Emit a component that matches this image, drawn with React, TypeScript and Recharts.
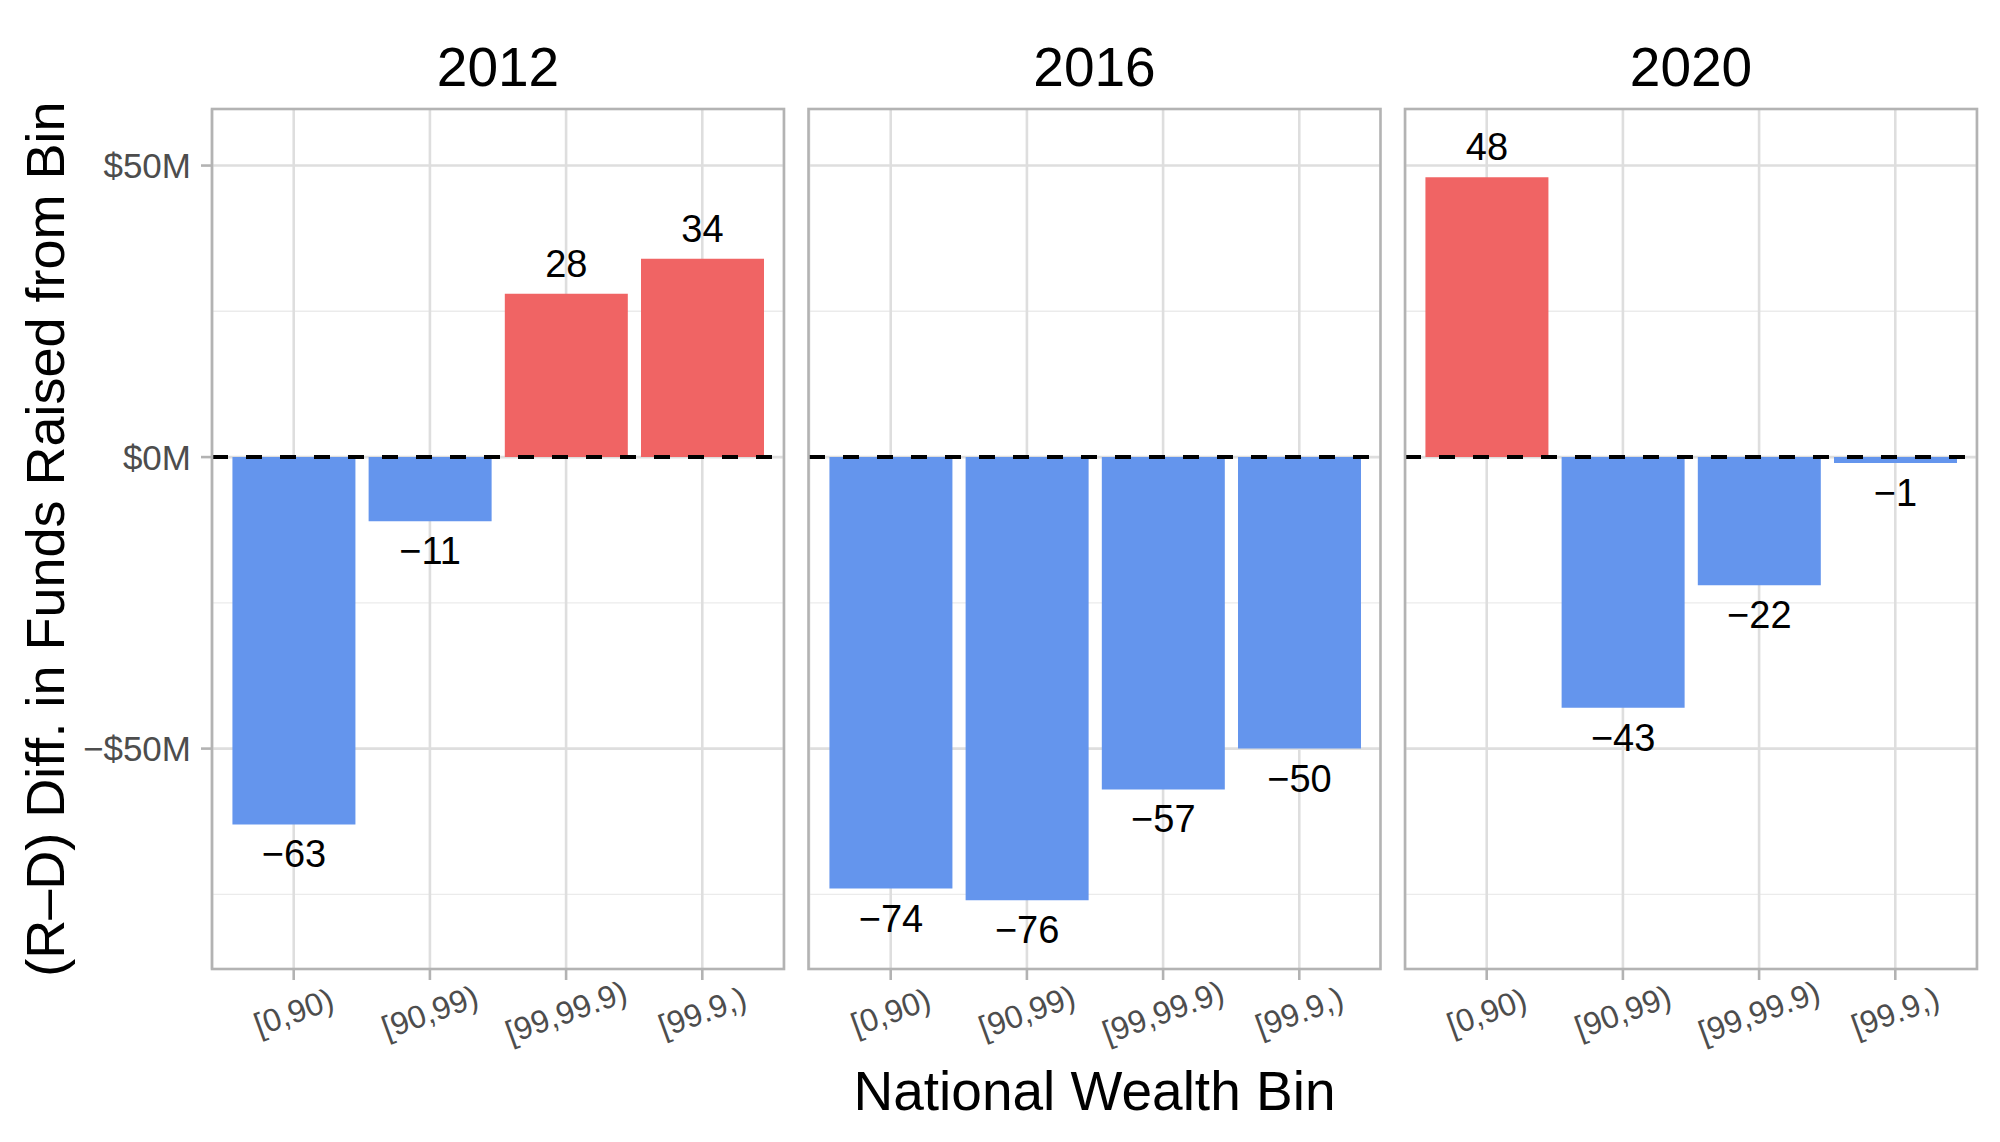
import React from 'react';
import { BarChart, Bar, XAxis, YAxis, CartesianGrid, ReferenceLine, Cell, LabelList } from 'recharts';

const bins = ['[0,90)', '[90,99)', '[99,99.9)', '[99.9,)'];
const years = ['2012', '2016', '2020'];
const values2012 = [-63, -11, 28, 34];
const values2016 = [-74, -76, -57, -50];
const values2020 = [48, -43, -22, -1];
const yTicks = [50, 0, -50];
const yMinorTicks = [25, -25, -75];
const yDomain: [number, number] = [-87.8, 59.7];

const seriesByYear = [values2012, values2016, values2020];

const FONT = '"Liberation Sans", Arial, Helvetica, sans-serif';
const RED = '#F06464';
const BLUE = '#6495ED';

const PANEL_LEFTS = [212, 808.5, 1405];
const PANEL_W = 572;
const PANEL_TOP = 109;
const PANEL_BOTTOM = 969;
const H = 1142;
const Y_AXIS_W = 212;

const fmtNum = (v: number) => (v < 0 ? '\u2212' + Math.abs(v) : String(v));
const fmtMoney = (v: number) => (v < 0 ? '\u2212$' + Math.abs(v) + 'M' : '$' + v + 'M');

const XTick = (props: any) => {
  const { x, payload } = props;
  return (
    <text
      transform={`translate(${x},1012) rotate(-20)`}
      textAnchor="middle"
      dominantBaseline="central"
      fontSize={32}
      fill="#4D4D4D"
      fontFamily={FONT}
    >
      {payload.value}
    </text>
  );
};

const BarLabel = (props: any) => {
  const vb = props.viewBox || {};
  const x = props.x ?? vb.x;
  const y = props.y ?? vb.y;
  const width = props.width ?? vb.width;
  const height = props.height ?? vb.height;
  const value = Number(props.value);
  const top = Math.min(y, y + height);
  const bottom = Math.max(y, y + height);
  const cy = value >= 0 ? top - 30 : bottom + 30;
  return (
    <text
      x={x + width / 2}
      y={cy}
      textAnchor="middle"
      dominantBaseline="central"
      fontSize={38}
      fill="#000"
      fontFamily={FONT}
    >
      {fmtNum(value)}
    </text>
  );
};

const Panel = ({ idx }: { idx: number }) => {
  const vals = seriesByYear[idx];
  const data = bins.map((b, i) => ({ bin: b, value: vals[i] }));
  const first = idx === 0;
  const leftW = first ? Y_AXIS_W : 0;
  const pad = PANEL_W / 4.2 * 0.1;
  return (
    <div style={{ position: 'absolute', left: PANEL_LEFTS[idx] - leftW, top: 0 }}>
      <BarChart
        width={leftW + PANEL_W}
        height={H}
        data={data}
        margin={{ top: PANEL_TOP, right: 0, bottom: 0, left: 0 }}
        barCategoryGap="5%"
      >
        <CartesianGrid horizontalValues={yMinorTicks} vertical={false} stroke="#EBEBEB" strokeWidth={1.4} />
        <CartesianGrid horizontalValues={yTicks} stroke="#DEDEDE" strokeWidth={2.6} />
        <XAxis
          dataKey="bin"
          padding={{ left: pad, right: pad }}
          height={H - PANEL_BOTTOM}
          axisLine={false}
          tickLine={{ stroke: '#B3B3B3', strokeWidth: 2.6 }}
          tickSize={11}
          interval={0}
          tick={<XTick />}
        />
        <YAxis
          domain={yDomain}
          ticks={yTicks}
          width={Y_AXIS_W}
          hide={!first}
          allowDataOverflow
          axisLine={false}
          tickLine={{ stroke: '#B3B3B3', strokeWidth: 2.6 }}
          tickSize={11}
          tickMargin={10}
          tickFormatter={fmtMoney}
          tick={{ fontSize: 35, fill: '#4D4D4D', fontFamily: FONT }}
        />
        <Bar dataKey="value" isAnimationActive={false}>
          {data.map((d, i) => (
            <Cell key={i} fill={d.value >= 0 ? RED : BLUE} />
          ))}
          <LabelList dataKey="value" content={BarLabel} />
        </Bar>
        <ReferenceLine y={0} stroke="#000" strokeWidth={4} strokeDasharray="16 18" />
      </BarChart>
    </div>
  );
};

export default function App() {
  return (
    <div style={{ position: 'absolute', left: 0, top: 0, width: 2000, height: H, background: '#fff', fontFamily: FONT }}>
      {years.map((_, i) => (
        <Panel key={i} idx={i} />
      ))}
      <svg width={2000} height={H} style={{ position: 'absolute', left: 0, top: 0, pointerEvents: 'none' }}>
        {PANEL_LEFTS.map((l, i) => (
          <rect key={'b' + i} x={l} y={PANEL_TOP} width={PANEL_W} height={PANEL_BOTTOM - PANEL_TOP} fill="none" stroke="#B3B3B3" strokeWidth={2.6} />
        ))}
        {years.map((yr, i) => (
          <text key={'t' + i} x={PANEL_LEFTS[i] + PANEL_W / 2} y={86} textAnchor="middle" fontSize={55} fill="#000" fontFamily={FONT}>
            {yr}
          </text>
        ))}
        <text x={(PANEL_LEFTS[0] + PANEL_LEFTS[2] + PANEL_W) / 2} y={1110} textAnchor="middle" fontSize={55} fill="#000" fontFamily={FONT}>
          National Wealth Bin
        </text>
        <text transform={`translate(64,${(PANEL_TOP + PANEL_BOTTOM) / 2}) rotate(-90)`} textAnchor="middle" fontSize={54} fill="#000" fontFamily={FONT}>
          (R–D) Diff. in Funds Raised from Bin
        </text>
      </svg>
    </div>
  );
}
